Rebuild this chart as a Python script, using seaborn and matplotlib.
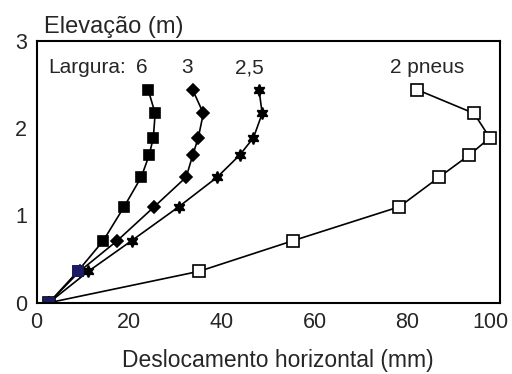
import numpy as np
import pandas as pd
import matplotlib
matplotlib.use("Agg")
import matplotlib.pyplot as plt
import seaborn as sns
from matplotlib.ticker import MultipleLocator

sns.set_theme(style="white")
plt.rcParams['font.family'] = ['Liberation Sans', 'DejaVu Sans']

elev = [0, 0.36, 0.71, 1.10, 1.44, 1.69, 1.89, 2.17, 2.44]
desl_6 = [2.7, 8.9, 14.4, 18.9, 22.6, 24.3, 25.2, 25.6, 24.1]
desl_3 = [2.7, 9.3, 17.4, 25.4, 32.3, 33.7, 34.9, 36.0, 33.7]
desl_25 = [2.7, 11.2, 20.5, 30.7, 39.0, 43.8, 46.8, 48.7, 48.0]
desl_2p = [2.7, 35.1, 55.3, 78.3, 86.9, 93.3, 97.8, 94.4, 82.2]

series_names = ["6", "3", "2,5", "2 pneus"]
series_vals = [desl_6, desl_3, desl_25, desl_2p]
label_x = [22.8, 32.5, 46.0, 84.3]

x_ticks = [0, 20, 40, 60, 80, 100]
x_ticklabels = ["0", "20", "40", "60", "80", "100"]
y_ticks = [0, 1, 2, 3]
y_ticklabels = ["0", "1", "2", "3"]

rows = []
for name, vals in zip(series_names, series_vals):
    for i, (d, e) in enumerate(zip(vals, elev)):
        rows.append({"serie": name, "ordem": i, "desl": d, "elev": e})
df = pd.DataFrame(rows)

W, H = 512, 374
fig = plt.figure(figsize=(W/100, H/100), dpi=100)
ax = fig.add_axes([36.5/W, 1-302.7/H, (500-36.5)/W, (302.7-41)/H])

styles = {
    "6": dict(marker="s", ms=7.3, mfc="black"),
    "3": dict(marker="D", ms=6.3, mfc="black"),
    "2,5": dict(marker=(6, 1, 0), ms=8.5, mfc="black"),
    "2 pneus": dict(marker="s", ms=8.0, mfc="white"),
}
for name in ["2 pneus", "2,5", "3", "6"]:
    sub = df[df["serie"] == name].sort_values("ordem")
    sns.lineplot(data=sub, x="desl", y="elev", sort=False, estimator=None,
                 ax=ax, color="black", linewidth=1.2, legend=False,
                 marker=styles[name]["marker"], markersize=styles[name]["ms"],
                 markerfacecolor=styles[name]["mfc"],
                 markeredgecolor="black", markeredgewidth=1.2)

# the two lowest squares of the "6" series appear dark blue in the reference
ax.plot(desl_6[:2], elev[:2], linestyle="none", marker="s", ms=7.3,
        mfc="#1c1c66", mec="#1c1c66", mew=1.2)

ax.set_xlim(0, 100)
ax.set_ylim(0, 3)
# last x label is drawn separately (shifted left, as in the reference)
ax.set_xticks(x_ticks, labels=x_ticklabels[:-1] + [""])
ax.set_yticks(y_ticks, labels=y_ticklabels)
ax.xaxis.set_minor_locator(MultipleLocator(10))
ax.yaxis.set_minor_locator(MultipleLocator(0.5))
ax.tick_params(which="both", direction="in", length=4, width=1, color="black",
               top=False, right=False, labelsize=15.5, pad=7)
for s in ax.spines.values():
    s.set_color("black")
    s.set_linewidth(1.5)
ax.set_ylabel("")
ax.grid(False)

ax.annotate(x_ticklabels[-1], xy=(x_ticks[-1], 0), xycoords=("data", "axes fraction"),
            xytext=(-7.2, -7), textcoords="offset points",
            ha="center", va="top", fontsize=15.5)

ax.set_xlabel("Deslocamento horizontal (mm)", fontsize=16.5, va="baseline")
ax.xaxis.set_label_coords(0.52, -(367 - 302.7) / (302.7 - 41))

ax.text(2.5, 2.63, "Largura:", fontsize=15, ha="left", va="baseline")
for name, lx in zip(series_names, label_x):
    ax.text(lx, 2.63, name, fontsize=15, ha="center", va="baseline")

fig.text(44/W, 1-33/H, "Elevação (m)", fontsize=17, ha="left", va="baseline")

fig.savefig("out.png", dpi=100)
